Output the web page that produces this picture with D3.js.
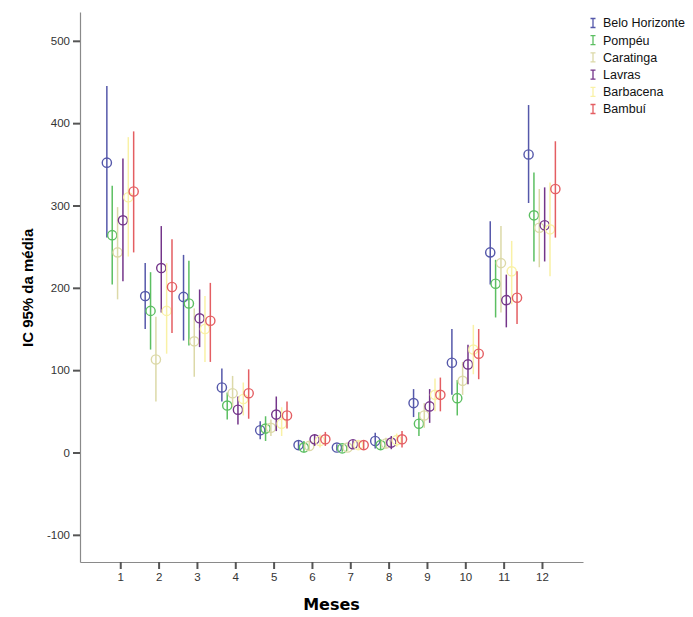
<!DOCTYPE html>
<html>
<head>
<meta charset="utf-8">
<script src="https://cdn.jsdelivr.net/npm/d3@7"></script>
<style>
  body { margin: 0; background: #fff; }
  svg { display: block; font-family: "Liberation Sans", Arial, sans-serif; }
</style>
</head>
<body>
<div id="chart"></div>
<script>
// Months on the x axis
const months = [1, 2, 3, 4, 5, 6, 7, 8, 9, 10, 11, 12];
const cities = ["Belo Horizonte", "Pompéu", "Caratinga", "Lavras", "Barbacena", "Bambuí"];
const colors = ["#5558aa", "#5cbf62", "#dcd9a8", "#74358a", "#f9f1a6", "#e45e62"];
const yTicks = [-100, 0, 100, 200, 300, 400, 500];

// Mean and 95% CI per city, one value per month
const bhMean = [352, 190, 189, 79, 27, 9, 6, 14, 60, 109, 243, 362];
const bhLow  = [261, 150, 136, 62, 16, 3, 2, 5, 43, 70, 204, 303];
const bhHigh = [445, 230, 240, 102, 38, 15, 10, 24, 77, 150, 281, 422];

const pomMean = [264, 172, 181, 57, 29, 6, 5, 9, 35, 66, 205, 288];
const pomLow  = [204, 125, 130, 40, 14, 0, 1, 4, 20, 45, 164, 232];
const pomHigh = [324, 219, 233, 73, 44, 14, 9, 16, 49, 88, 234, 340];

const carMean = [243, 113, 135, 72, 30, 8, 6, 11, 45, 87, 230, 273];
const carLow  = [186, 62, 92, 55, 20, 3, 2, 5, 30, 70, 170, 225];
const carHigh = [298, 165, 175, 93, 40, 14, 10, 18, 60, 110, 275, 320];

const lavMean = [282, 224, 163, 52, 46, 16, 10, 12, 56, 107, 185, 276];
const lavLow  = [208, 170, 128, 34, 26, 8, 5, 4, 36, 83, 152, 232];
const lavHigh = [357, 275, 198, 68, 68, 22, 15, 20, 77, 131, 216, 322];

const barMean = [310, 172, 150, 65, 35, 14, 9, 15, 70, 125, 220, 271];
const barLow  = [238, 120, 110, 45, 20, 6, 4, 7, 50, 95, 180, 214];
const barHigh = [383, 230, 190, 85, 55, 22, 14, 23, 90, 155, 257, 328];

const bamMean = [317, 201, 160, 72, 45, 16, 9, 16, 70, 120, 188, 320];
const bamLow  = [243, 145, 110, 41, 29, 8, 4, 6, 50, 89, 156, 261];
const bamHigh = [390, 259, 206, 101, 62, 25, 14, 26, 91, 150, 220, 378];

const means = [bhMean, pomMean, carMean, lavMean, barMean, bamMean];
const lows = [bhLow, pomLow, carLow, lavLow, barLow, bamLow];
const highs = [bhHigh, pomHigh, carHigh, lavHigh, barHigh, bamHigh];

const chart = (() => {
  const width = 693;
  const height = 617;

  const x = d3.scaleLinear().domain([-0.05, 13.07]).range([80, 583]);
  const y = d3.scaleLinear().domain([-133, 535]).range([562, 12]);
  // small horizontal shift for each city inside a month
  const offset = d3.scalePoint().domain(cities).range([-13.4, 13.4]);
  const color = d3.scaleOrdinal(cities, colors);

  const svg = d3.select("#chart").append("svg")
    .attr("width", width)
    .attr("height", height)
    .attr("viewBox", [0, 0, width, height]);

  // Axes
  const xAxis = svg.append("g")
    .attr("transform", `translate(0,${y.range()[0]})`)
    .call(d3.axisBottom(x).tickValues(months).tickSize(7).tickPadding(4).tickSizeOuter(0));
  const yAxis = svg.append("g")
    .attr("transform", `translate(${x.range()[0]},0)`)
    .call(d3.axisLeft(y).tickValues(yTicks).tickFormat(d => String(d))
      .tickSize(7).tickPadding(3).tickSizeOuter(0));

  [xAxis, yAxis].forEach(g => {
    g.select(".domain").attr("stroke", "#8a8a8a").attr("stroke-width", 1.2);
    g.selectAll(".tick line").attr("stroke", "#555").attr("stroke-width", 2);
    g.selectAll(".tick text").attr("fill", "#333").style("font-size", "11.5px");
  });

  // Axis titles
  svg.append("text")
    .attr("x", (x.range()[0] + x.range()[1]) / 2)
    .attr("y", 610)
    .attr("text-anchor", "middle")
    .style("font-size", "16px")
    .style("font-weight", "bold")
    .style("font-family", "'DejaVu Sans', sans-serif")
    .text("Meses");

  svg.append("text")
    .attr("transform", `translate(33,${y(200)}) rotate(-90)`)
    .attr("text-anchor", "middle")
    .style("font-size", "15px")
    .style("font-weight", "bold")
    .text("IC 95% da média");

  // Error bars and mean circles
  const rows = [];
  cities.forEach((c, i) => {
    months.forEach((m, j) => {
      rows.push({city: c, month: m, mean: means[i][j], lo: lows[i][j], hi: highs[i][j]});
    });
  });

  const g = svg.append("g");
  const mark = g.selectAll("g")
    .data(rows)
    .join("g")
    .attr("transform", d => `translate(${x(d.month) + offset(d.city)},0)`);

  mark.append("line")
    .attr("y1", d => y(d.lo))
    .attr("y2", d => y(d.hi))
    .attr("stroke", d => color(d.city))
    .attr("stroke-width", 1.5);

  mark.append("circle")
    .attr("cy", d => y(d.mean))
    .attr("r", 4.6)
    .attr("fill", "none")
    .attr("stroke", d => color(d.city))
    .attr("stroke-width", 1.4);

  // Legend
  const legend = svg.append("g")
    .selectAll("g")
    .data(cities)
    .join("g")
    .attr("transform", (d, i) => `translate(593,${23 + i * 17.2})`);

  legend.append("path")
    .attr("d", "M-2.5,-4.5H2.5M0,-4.5V4.5M-2.5,4.5H2.5")
    .attr("stroke", d => color(d))
    .attr("stroke-width", 1.3)
    .attr("fill", "none");

  legend.append("text")
    .attr("x", 10)
    .attr("dy", "0.35em")
    .style("font-size", "12.5px")
    .attr("fill", "#111")
    .text(d => d);

  return svg.node();
})();
</script>
</body>
</html>
